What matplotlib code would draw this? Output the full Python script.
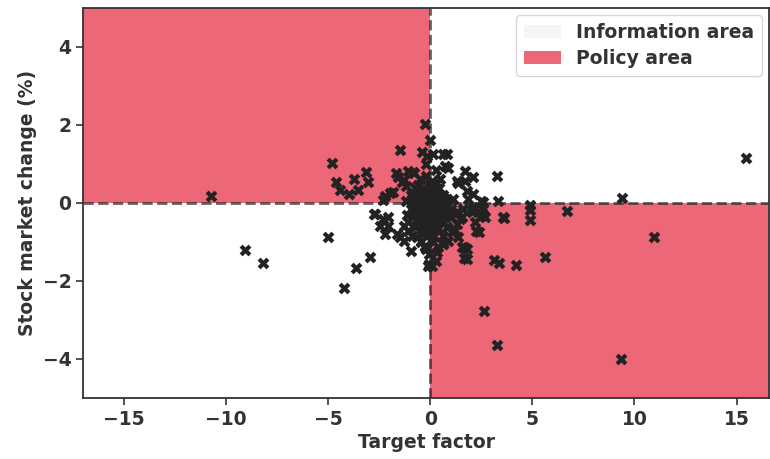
import matplotlib
matplotlib.use("Agg")
import matplotlib.pyplot as plt
from matplotlib.patches import Patch

# Points (target factor, stock market change %)
outer_x = [-10.73, -9.07, -8.2, -5.02, -4.24, -3.66, -2.93, -2.78, -2.44, -4.83, -4.63, -4.44,
           -4.0, -3.76, -3.56, -3.17, -3.07, -0.24, 0.0, -1.5, -0.4, -0.15, 0.6, 0.8, 0.7, 1.7,
           2.1, 3.27, 3.3, 4.88, 4.88, 4.88, 5.6, 4.2, 3.12, 1.67, 1.67, 1.55, 0.1, -0.1, 9.37,
           10.97, 9.32, 6.68, 15.46, 3.6, 3.27, 2.63, 2.6, 2.6, 2.24, 2.1, 1.3, 0.6, -0.25, 3.56]
outer_y = [0.18, -1.2, -1.55, -0.88, -2.18, -1.67, -1.39, -0.28, -0.59, 1.02, 0.54, 0.34,
           0.23, 0.62, 0.34, 0.79, 0.54, 2.03, 1.62, 1.36, 1.3, 1.2, 1.26, 1.26, 0.95, 0.82,
           0.67, 0.69, 0.05, -0.05, -0.18, -0.44, -1.38, -1.6, -1.46, -1.12, -1.41, -1.12, -1.62,
           -1.62, 0.13, -0.87, -4.0, -0.21, 1.15, -0.39, -3.64, -2.77, 0.03, -0.3, -0.72, -0.18,
           -0.24, -1.05, -1.13, -0.36]

ring_x = [-2.7, -2.3, -2.05, -2.05, -2.2, -1.6, -1.1, -0.83, -1.37, -1.2, -2.2, -1.85, -1.3,
          -1.1, -0.9, -0.63, -1.46, -1.07, -0.73, -0.24, 1.3, 1.7, 1.8, 2.1, 1.85, 2.5, 2.1,
          2.6, 2.5, 1.6, 1.46, 1.3, 0.83, 0.6, 0.6, 1.07, 1.3, 0.13, 0.88, 1.37, -0.78, -1.27,
          -1.7, -0.2, -2.3, -1.95, -1.61, -1.27, -0.44, -0.2, -0.93, 1.03, 1.54, 2.05, 2.55,
          2.2, 2.7, 1.2, 1.37, 0.88, 0.38, 0.63, 2.37, 1.8, 1.8, 3.38, 0.3, -0.05]
ring_y = [-0.28, -0.41, -0.36, -0.59, -0.79, 0.67, 0.82, 0.79, 0.54, 0.44, 0.18, 0.28, -0.59,
          -0.72, -0.85, -0.87, -0.87, -0.49, -0.62, -1.1, 0.56, 0.56, 0.31, 0.23, 0.1, 0.05,
          -0.1, -0.15, -0.33, -0.15, -0.41, -0.54, -0.62, -0.85, -1.05, -0.74, -0.23, 1.25, 0.9,
          0.51, 0.77, 0.59, 0.77, 1.0, 0.08, 0.26, -0.79, -0.97, -0.97, -1.18, -1.23, -0.36,
          -0.36, -0.23, -0.27, -0.49, -0.36, -0.7, -0.87, -0.97, -1.14, -1.0, -0.74, -1.18,
          -1.44, -1.54, -1.49, -1.57]

# dense blob around the origin
core_x = [-0.75, -0.35, 0.05, 0.42, -0.95, -0.55, -0.15, 0.25, 0.62, -0.8, -0.4, 0.0, 0.4,
          0.78, -0.95, -0.55, -0.18, 0.2, 0.6, -0.75, -0.35, 0.05, 0.45, 0.85, -0.6, -0.2, 0.2,
          0.6, -0.4, 0.0, 0.4, -0.2, 0.2, 0.1, -0.2, 0.3, -0.5, 0.5, -1.2, 1.1, 1.0, -1.15,
          0.15, -0.05, 0.35, -0.45, -0.6, -0.1, 0.3, 0.7, -0.7, -0.25, 0.15, 0.55, -0.45,
          0.05, 0.45, -0.3, 0.1,
          -0.9, -0.5, -0.1, 0.3, 0.65, -0.85, -0.45, -0.05, 0.35, 0.75, -0.8, -0.4, 0.0, 0.4,
          0.8, -0.65, -0.25, 0.15, 0.55, -0.5, -0.1, 0.3, -0.35, 0.05, 0.0, -0.6, 0.35]
core_y = [0.38, 0.38, 0.38, 0.38, 0.2, 0.2, 0.2, 0.2, 0.2, 0.02, 0.02, 0.02, 0.02, 0.02,
          -0.15, -0.15, -0.15, -0.15, -0.15, -0.32, -0.32, -0.32, -0.32, -0.32, -0.5, -0.5,
          -0.5, -0.5, -0.68, -0.68, -0.68, -0.85, -0.85, 0.55, 0.7, 0.85, 0.6, 0.6, 0.05, 0.1,
          -0.15, -0.3, -1.0, -1.3, -1.25, -1.0, 0.3, 0.3, 0.3, 0.1, -0.05, -0.05, -0.05, -0.05,
          -0.22, -0.22, -0.22, -0.42, -0.42,
          0.1, 0.1, 0.1, 0.1, 0.1, -0.25, -0.25, -0.25, -0.25, -0.25, -0.08, -0.08, -0.08,
          -0.08, -0.08, -0.42, -0.42, -0.42, -0.42, -0.6, -0.6, -0.6, -0.76, -0.76, 0.48,
          0.45, 0.5]

x = outer_x + ring_x + core_x
y = outer_y + ring_y + core_y

x_lim = (-17.0, 16.6)
y_lim = (-5.0, 5.0)

policy_color = "#EC6878"
info_color = "whitesmoke"

plt.rcParams["font.family"] = "DejaVu Sans"
plt.rcParams["font.weight"] = "bold"
plt.rcParams["axes.labelweight"] = "bold"

fig = plt.figure(figsize=(7.7, 4.59), dpi=100)
ax = fig.add_axes([0.108, 0.133, 0.891, 0.85])

# quadrant shading
ax.fill_between([x_lim[0], 0], 0, y_lim[1], color=policy_color, lw=0, zorder=0)
ax.fill_between([0, x_lim[1]], y_lim[0], 0, color=policy_color, lw=0, zorder=0)

ax.axhline(0, color="#222222", ls="--", lw=2, alpha=0.7, zorder=1)
ax.axvline(0, color="#222222", ls="--", lw=2, alpha=0.7, zorder=1)

ax.scatter(x, y, marker="X", s=72, color="#222222", linewidths=0, zorder=2)

ax.set_xlim(*x_lim)
ax.set_ylim(*y_lim)
ax.set_xticks([-15, -10, -5, 0, 5, 10, 15])
ax.set_yticks([-4, -2, 0, 2, 4])
ax.tick_params(labelsize=13.5, color="#333333", width=1.2, length=5)
for s in ax.spines.values():
    s.set_color("#333333")
    s.set_linewidth(1.3)

ax.set_xlabel("Target factor", fontsize=13.5, color="#333333", labelpad=3)
ax.set_ylabel("Stock market change (%)", fontsize=13.5, color="#333333", labelpad=4)
for lab in ax.get_xticklabels() + ax.get_yticklabels():
    lab.set_color("#333333")

handles = [Patch(facecolor=info_color, edgecolor="none", label="Information area"),
           Patch(facecolor=policy_color, edgecolor="none", label="Policy area")]
leg = ax.legend(handles=handles, loc="upper right", fontsize=13.5, frameon=True,
                borderaxespad=0.4, handlelength=2.0, borderpad=0.4, labelspacing=0.4)
for t in leg.get_texts():
    t.set_color("#333333")

fig.savefig("out.png", dpi=100)
